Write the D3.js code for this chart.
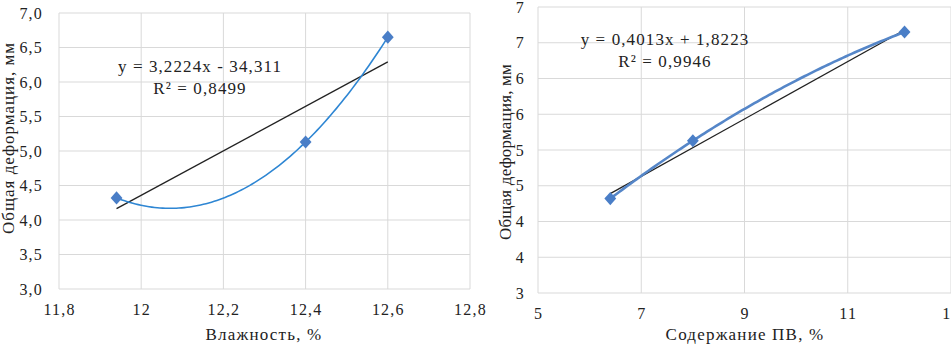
<!DOCTYPE html>
<html>
<head>
<meta charset="utf-8">
<script src="https://cdn.jsdelivr.net/npm/d3@7"></script>
<style>
  body { margin: 0; background: #fff; }
  svg text { font-family: "Times New Roman", "Liberation Serif", "DejaVu Serif", serif !important; fill: #222; }
</style>
</head>
<body>
<svg id="chart" width="951" height="347"></svg>
<script>
// measured values, same deformation for both charts
const moisture = [11.94, 12.4, 12.6];
const pvContent = [6.4, 8.0, 12.1];
const deformation = [4.32, 5.13, 6.65];

const leftXTicks = [11.8, 12, 12.2, 12.4, 12.6, 12.8];
const leftXLabels = ['11,8', '12', '12,2', '12,4', '12,6', '12,8'];
const leftYTicks = [3, 3.5, 4, 4.5, 5, 5.5, 6, 6.5, 7];
const leftYLabels = ['3,0', '3,5', '4,0', '4,5', '5,0', '5,5', '6,0', '6,5', '7,0'];

const rightXTicks = [5, 7, 9, 11, 13];
const rightXLabels = ['5', '7', '9', '11', '13'];
const rightYTicks = [3, 3.5, 4, 4.5, 5, 5.5, 6, 6.5, 7];
const rightYLabels = ['3', '4', '4', '5', '5', '6', '6', '7', '7'];

// linear trendlines as printed on the chart
const leftTrend = { slope: 3.2224, intercept: -34.311, text: 'y = 3,2224x - 34,311', r2: 'R² = 0,8499' };
const rightTrend = { slope: 0.4013, intercept: 1.8223, text: 'y = 0,4013x + 1,8223', r2: 'R² = 0,9946' };

const FONT = '"Times New Roman", "Liberation Serif", "DejaVu Serif", serif';
const svg = d3.select('#chart').attr('font-family', FONT);
svg.append('rect').attr('width', 951).attr('height', 347).attr('fill', '#fff');

// 2nd order fit through the three points (Lagrange form)
function quadFit(xs, ys) {
  return x => xs.reduce((s, xi, i) => {
    let t = ys[i];
    xs.forEach((xj, j) => { if (j !== i) t *= (x - xj) / (xi - xj); });
    return s + t;
  }, 0);
}

function drawChart(o) {
  const g = svg.append('g');
  const x = d3.scaleLinear().domain(o.xDomain).range(o.xRange);
  const y = d3.scaleLinear().domain([3, 7]).range(o.yRange);

  // grid
  g.append('g').selectAll('line').data(o.yTicks).join('line')
    .attr('x1', o.xRange[0]).attr('x2', o.xRange[1])
    .attr('y1', d => y(d)).attr('y2', d => y(d))
    .attr('stroke', '#d9d9d9').attr('stroke-width', 1);
  g.append('g').selectAll('line').data(o.xTicks).join('line')
    .attr('y1', o.yRange[0]).attr('y2', o.yRange[1])
    .attr('x1', d => x(d)).attr('x2', d => x(d))
    .attr('stroke', '#d9d9d9').attr('stroke-width', 1);

  const xAxis = d3.axisBottom(x).tickValues(o.xTicks)
    .tickFormat((d, i) => o.xLabels[i]).tickSize(0).tickPadding(15);
  const yAxis = d3.axisLeft(y).tickValues(o.yTicks)
    .tickFormat((d, i) => o.yLabels[i]).tickSize(0).tickPadding(o.yPad);
  const ax = g.append('g').attr('transform', `translate(0,${o.yRange[0]})`).call(xAxis);
  const ay = g.append('g').attr('transform', `translate(${o.xRange[0]},0)`).call(yAxis);
  [ax, ay].forEach(a => {
    a.attr('font-family', FONT).attr('font-size', 16);
    a.select('.domain').remove();
    a.selectAll('text').attr('letter-spacing', 1.2).attr('fill', '#222');
  });

  // linear trend
  const xs = d3.extent(o.xs);
  g.append('line')
    .attr('x1', x(xs[0])).attr('y1', y(o.trend.slope * xs[0] + o.trend.intercept))
    .attr('x2', x(xs[1])).attr('y2', y(o.trend.slope * xs[1] + o.trend.intercept))
    .attr('stroke', '#222').attr('stroke-width', 1.3);

  // curve
  const f = quadFit(o.xs, deformation);
  const steps = d3.range(0, 101).map(i => xs[0] + (xs[1] - xs[0]) * i / 100);
  g.append('path')
    .attr('d', d3.line().x(d => x(d)).y(d => y(f(d)))(steps))
    .attr('fill', 'none').attr('stroke', o.curveColor).attr('stroke-width', o.curveWidth);

  // markers
  g.append('g').selectAll('path').data(o.xs).join('path')
    .attr('d', d3.symbol(d3.symbolDiamond2, 110))
    .attr('transform', (d, i) => `translate(${x(d)},${y(deformation[i])}) scale(0.9,1)`)
    .attr('fill', '#4a7ec7');

  // equation
  g.append('text').attr('x', o.eq[0]).attr('y', o.eq[1]).attr('text-anchor', 'middle')
    .attr('font-size', 17).attr('letter-spacing', 1.1).text(o.trend.text);
  g.append('text').attr('x', o.eq[0]).attr('y', o.eq[1] + 22).attr('text-anchor', 'middle')
    .attr('font-size', 17).attr('letter-spacing', 1.1).text(o.trend.r2);

  // titles
  g.append('text').attr('x', o.xTitle[0]).attr('y', 340).attr('text-anchor', 'middle')
    .attr('font-size', 17).attr('letter-spacing', 1.2).text(o.xTitleText);
  g.append('text').attr('transform', `translate(${o.yTitle[0]},${o.yTitle[1]}) rotate(-90)`)
    .attr('text-anchor', 'middle').attr('font-size', 17).attr('letter-spacing', o.yTitleSpacing)
    .text('Общая деформация, мм');
}

drawChart({
  xDomain: [11.8, 12.8], xRange: [59, 470], yRange: [289, 13],
  xTicks: leftXTicks, xLabels: leftXLabels, yTicks: leftYTicks, yLabels: leftYLabels, yPad: 16,
  xs: moisture, trend: leftTrend, curveColor: '#2e86d3', curveWidth: 1.6,
  eq: [200, 72], xTitle: [264, 0], xTitleText: 'Влажность, %',
  yTitle: [14, 138], yTitleSpacing: 1.0
});

drawChart({
  xDomain: [5, 13], xRange: [538, 951], yRange: [293, 7],
  xTicks: rightXTicks, xLabels: rightXLabels, yTicks: rightYTicks, yLabels: rightYLabels, yPad: 13,
  xs: pvContent, trend: rightTrend, curveColor: '#5586c8', curveWidth: 2.6,
  eq: [665, 45], xTitle: [745, 0], xTitleText: 'Содержание ПВ, %',
  yTitle: [511, 152], yTitleSpacing: 0.2
});
</script>
</body>
</html>
